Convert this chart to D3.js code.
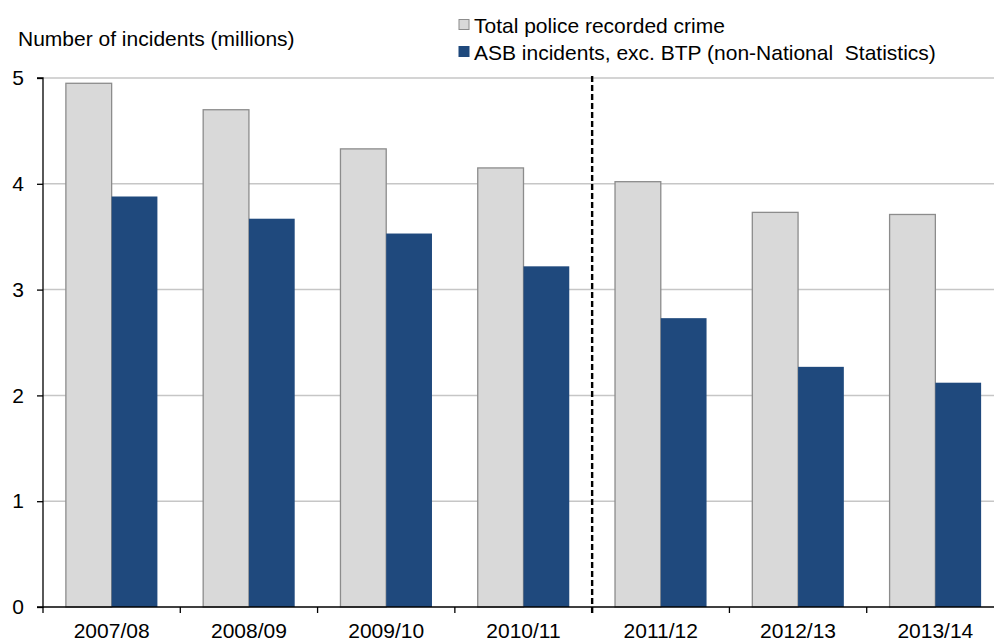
<!DOCTYPE html>
<html>
<head>
<meta charset="utf-8">
<script src="https://cdn.jsdelivr.net/npm/d3@7/dist/d3.min.js"></script>
<style>
  html, body { margin: 0; padding: 0; background: #fff; }
  svg { display: block; }
  text { font-family: "Liberation Sans", Arial, sans-serif; fill: #000; white-space: pre; }
</style>
</head>
<body>
<svg id="chart" width="994" height="643"></svg>
<script>
// Financial years on the category axis
const years = ["2007/08", "2008/09", "2009/10", "2010/11", "2011/12", "2012/13", "2013/14"];
// Millions of incidents per year
const totalCrime = [4.95, 4.70, 4.33, 4.15, 4.02, 3.73, 3.71];
const asbIncidents = [3.88, 3.67, 3.53, 3.22, 2.73, 2.27, 2.12];
const seriesNames = ["Total police recorded crime", "ASB incidents, exc. BTP (non-National  Statistics)"];
const yTicks = [0, 1, 2, 3, 4, 5];
// The series break falls before this year
const breakYear = "2011/12";

(function () {
  const svg = d3.select("#chart");
  const plotLeft = 43, plotRight = 1004, plotTop = 78, plotBottom = 607;
  const fontSize = "21px";

  const x = d3.scaleBand().domain(years).range([plotLeft, plotRight]).padding(0);
  // bars take one third of the band each, with half a bar width of space on each side
  const barW = x.bandwidth() / 3;
  const y = d3.scaleLinear().domain([0, 5]).range([plotBottom, plotTop]);

  // gridlines
  svg.append("g").selectAll("line")
    .data(yTicks.filter(d => d > 0))
    .join("line")
    .attr("x1", plotLeft).attr("x2", 994)
    .attr("y1", d => y(d)).attr("y2", d => y(d))
    .attr("stroke", "#c6c6c6").attr("stroke-width", 1.5);

  const rows = years.map((yr, i) => ({ yr, vals: [totalCrime[i], asbIncidents[i]] }));

  const groups = svg.append("g").selectAll("g")
    .data(rows).join("g")
    .attr("transform", d => `translate(${x(d.yr) + barW / 2},0)`);

  groups.append("rect")
    .attr("x", 0)
    .attr("width", barW)
    .attr("y", d => y(d.vals[0]))
    .attr("height", d => y(0) - y(d.vals[0]))
    .attr("fill", "#d9d9d9")
    .attr("stroke", "#8c8c8c")
    .attr("stroke-width", 1.3);

  groups.append("rect")
    .attr("x", barW)
    .attr("width", barW)
    .attr("y", d => y(d.vals[1]))
    .attr("height", d => y(0) - y(d.vals[1]))
    .attr("fill", "#1f497d");

  // y axis
  const yAxis = d3.axisLeft(y).tickValues(yTicks).tickSize(6).tickPadding(13).tickFormat(d3.format("d"));
  const gy = svg.append("g").attr("transform", `translate(${plotLeft},0)`).call(yAxis);
  gy.select(".domain").attr("stroke", "#000").attr("stroke-width", 1.3).attr("d", `M-6,${plotTop}H0V${plotBottom}H-6`);
  gy.selectAll(".tick line").attr("stroke", "#000").attr("stroke-width", 1.3);
  gy.selectAll(".tick text").style("font-size", fontSize).style("font-family", "Liberation Sans, Arial, sans-serif").attr("fill", "#000");

  // x axis with ticks on category boundaries
  const gx = svg.append("g").attr("transform", `translate(0,${plotBottom})`);
  gx.append("line").attr("x1", plotLeft).attr("x2", 994).attr("y1", 0).attr("y2", 0)
    .attr("stroke", "#000").attr("stroke-width", 1.3);
  gx.selectAll(".bt").data(years).join("line").attr("class", "bt")
    .attr("x1", d => x(d)).attr("x2", d => x(d)).attr("y1", 0).attr("y2", 6)
    .attr("stroke", "#000").attr("stroke-width", 1.3);
  gx.selectAll(".lbl").data(years).join("text").attr("class", "lbl")
    .attr("x", d => x(d) + x.bandwidth() / 2)
    .attr("y", 31)
    .attr("text-anchor", "middle")
    .style("font-size", fontSize)
    .text(d => d);

  // break between series
  svg.append("line")
    .attr("x1", x(breakYear)).attr("x2", x(breakYear))
    .attr("y1", plotTop - 2).attr("y2", plotBottom + 6)
    .attr("stroke", "#000").attr("stroke-width", 2.4)
    .attr("stroke-dasharray", "6,3");

  // axis title
  svg.append("text").attr("x", 18).attr("y", 46).style("font-size", fontSize)
    .text("Number of incidents (millions)");

  // legend
  const legend = svg.append("g").attr("transform", "translate(458,0)");
  const swatch = [
    { fill: "#d9d9d9", stroke: "#8c8c8c" },
    { fill: "#1f497d", stroke: "#1f497d" }
  ];
  seriesNames.forEach((name, i) => {
    const yy = 24.5 + i * 27;
    legend.append("rect").attr("x", 1).attr("y", yy - 5).attr("width", 10).attr("height", 10)
      .attr("fill", swatch[i].fill).attr("stroke", swatch[i].stroke).attr("stroke-width", 1);
    legend.append("text").attr("x", 16).attr("y", yy + 8).style("font-size", fontSize).text(name);
  });
})();
</script>
</body>
</html>
